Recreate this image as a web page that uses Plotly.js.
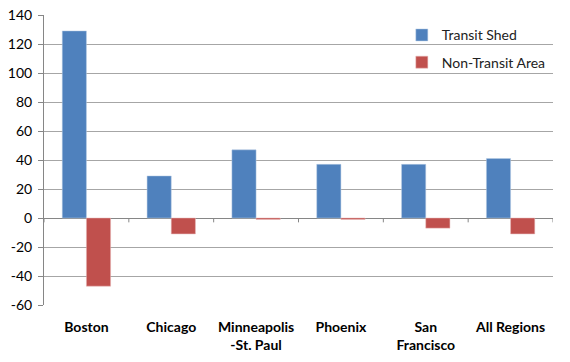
<!DOCTYPE html>
<html>
<head>
<meta charset="utf-8">
<script src="https://cdn.plot.ly/plotly-3.0.1.min.js"></script>
<style>html,body{margin:0;padding:0;background:#fff;}#chart{width:570px;height:362px;}</style>
</head>
<body>
<div id="chart"></div>
<script>
var categories = ["Boston", "Chicago", "Minneapolis<br>-St. Paul", "Phoenix", "San<br>Francisco", "All Regions"];
var transitShed = [129, 29, 47, 37, 37, 41];
var nonTransit = [-47, -11, -1, -1, -7, -11];
var yTicks = [-60, -40, -20, 0, 20, 40, 60, 80, 100, 120, 140];

var traces = [
  {type: "bar", name: "Transit Shed", x: categories, y: transitShed, legendgroup: "a",
   marker: {color: "#4F81BD", line: {color: "#b9cde5", width: 0.5}}},
  {type: "bar", name: "Non-Transit Area", x: categories, y: nonTransit, legendgroup: "b",
   marker: {color: "#C0504D", line: {color: "#e6b9b8", width: 0.5}}}
];

// small tick marks on the zero line between categories
var shapes = [];
for (var i = 0; i <= categories.length; i++) {
  shapes.push({type: "line", xref: "x", yref: "y", x0: i - 0.5, x1: i - 0.5, y0: 0, y1: -3,
    line: {color: "#868686", width: 1}, layer: "below"});
}

var layout = {
  width: 570, height: 362,
  margin: {l: 44, r: 17, t: 15, b: 57},
  paper_bgcolor: "#fff", plot_bgcolor: "#fff",
  font: {family: "Lato, 'Liberation Sans', sans-serif", size: 14, color: "#000"},
  barmode: "group", bargap: 0.43, bargroupgap: 0,
  showlegend: true,
  legend: {x: 0.703, y: 0.985, xanchor: "left", yanchor: "top", tracegroupgap: 6,
    itemwidth: 30,
    font: {size: 14, color: "#222"}, bgcolor: "rgba(0,0,0,0)"},
  xaxis: {type: "category", range: [-0.5, categories.length - 0.5], showgrid: false,
    showline: false, ticks: "", tickfont: {size: 14, color: "#000", weight: "bold"},
    ticklabelstandoff: 12,
    tickangle: 0, automargin: false},
  yaxis: {range: [-60, 140], tickvals: yTicks, ticktext: yTicks.map(String),
    showgrid: true, gridcolor: "#a6a6a6", gridwidth: 1,
    showline: true, linecolor: "#868686", linewidth: 1,
    ticks: "outside", ticklen: 5, tickcolor: "#868686",
    ticklabelstandoff: 3,
    zeroline: true, zerolinecolor: "#868686", zerolinewidth: 1,
    tickfont: {size: 14, color: "#000"}, automargin: false},
  shapes: shapes
};

Plotly.newPlot("chart", traces, layout, {displayModeBar: false, staticPlot: true});
</script>
</body>
</html>
